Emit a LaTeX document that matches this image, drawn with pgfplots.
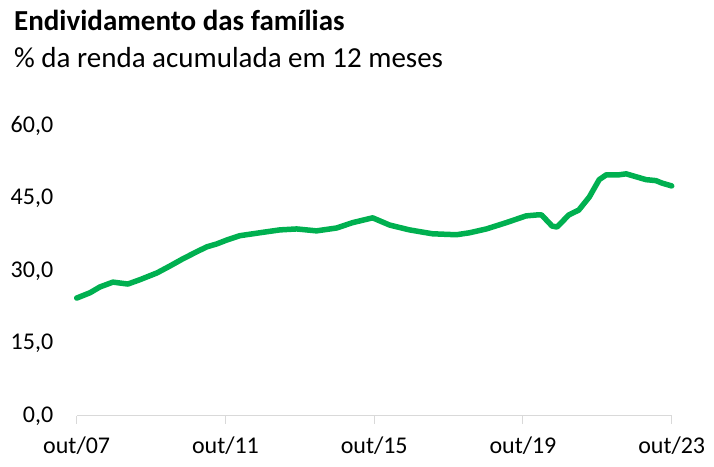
\documentclass[border=0pt]{standalone}
\usepackage{fontspec}
\setmainfont{Carlito}
\usepackage{pgfplots}
\pgfplotsset{compat=1.18}
\definecolor{lineg}{RGB}{0,176,80}
\definecolor{axg}{RGB}{217,217,217}
\begin{document}
\begin{tikzpicture}[x=1bp,y=1bp]
\useasboundingbox (0,0) rectangle (714,467);
\node[anchor=base west,inner sep=0] at (14,436) {\fontsize{29bp}{32bp}\selectfont\bfseries Endividamento das famílias};
\node[anchor=base west,inner sep=0] at (14,399) {\fontsize{29bp}{32bp}\selectfont \% da renda acumulada em 12 meses};
\begin{axis}[
  at={(76.7bp,51bp)}, anchor=south west,
  scale only axis, width=595bp, height=290bp,
  xmin=0, xmax=192, ymin=0, ymax=60,
  axis x line=bottom, axis y line=left,
  x axis line style={axg, line width=1bp, -},
  y axis line style={draw=none},
  xtick={0,48,96,144,192},
  xticklabels={out/07,out/11,out/15,out/19,out/23},
  ytick={0,15,30,45,60},
  yticklabels={{0,0},{15,0},{30,0},{45,0},{60,0}},
  tick align=outside,
  major tick length=8bp,
  xtick style={axg, line width=1bp},
  ytick style={draw=none},
  tick label style={font=\fontsize{24bp}{28bp}\selectfont, text=black},
  yticklabel style={xshift=-12bp},
  xticklabel style={yshift=-9bp},
  clip=false,
]
\addplot[lineg, line width=5.5bp, line join=round, line cap=round] coordinates {
(0,24.4) (4.3,25.5) (7.5,26.7) (11.7,27.7) (16.5,27.3) (20.4,28.2)
(25.9,29.6) (30.0,31.0) (34.2,32.5) (38.8,34.0) (42.0,35.0) (45.2,35.6)
(48.4,36.4) (52.6,37.3) (59.0,37.9) (65.5,38.5) (71.0,38.7) (77.4,38.3)
(83.9,38.9) (89.0,40.0) (95.5,41.0) (101,39.5) (107.4,38.5) (114.8,37.7)
(122.5,37.5) (126.7,37.9) (132.2,38.7) (138.6,40.0) (145,41.4) (148.6,41.6)
(150,41.6) (153.4,39.3) (155,39.1) (158.8,41.6) (162,42.6) (165.4,45.3)
(168.6,48.9) (170.9,49.9) (175,49.9) (177.3,50.1) (180.5,49.5) (183.7,48.9)
(186.9,48.7) (188.8,48.2) (192,47.6)
};
\end{axis}
\end{tikzpicture}
\end{document}
